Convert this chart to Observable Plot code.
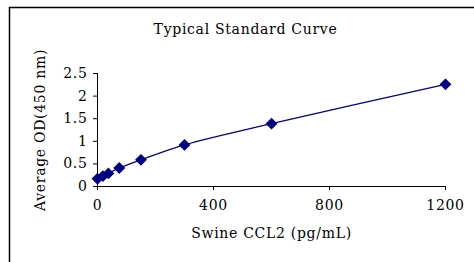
<!DOCTYPE html>
<html><head><meta charset="utf-8">
<script src="https://cdn.jsdelivr.net/npm/d3@7"></script>
<script src="https://cdn.jsdelivr.net/npm/@observablehq/plot@0.6"></script>
<style>body{margin:0;background:#fff} svg text{letter-spacing:0.7px}</style>
</head><body><div id="chart"></div>
<script>
const conc = [0, 18.75, 37.5, 75, 150, 300, 600, 1200];
const od = [0.17, 0.23, 0.29, 0.41, 0.59, 0.92, 1.39, 2.26];
const xTicks = [0, 400, 800, 1200];
const yTicks = [0, 0.5, 1, 1.5, 2, 2.5];
const title = "Typical Standard Curve";
const xLabel = "Swine CCL2 (pg/mL)";
const yLabel = "Average OD(450 nm)";

const data = conc.map((c, i) => ({x: c, y: od[i]}));
const col = "#000080";
const font = "'DejaVu Serif', 'Liberation Serif', serif";

const svg = Plot.plot({
  width: 474, height: 262,
  marginLeft: 97, marginRight: 29, marginTop: 73, marginBottom: 76,
  style: {fontFamily: font, fontSize: "14px", color: "#000", background: "#fff"},
  x: {domain: [0, 1200], ticks: xTicks, label: null},
  y: {domain: [0, 2.5], ticks: yTicks, label: null},
  marks: [
    Plot.axisX({ticks: xTicks, tickSize: 4, tickPadding: 10, fontSize: 14, tickFormat: d => String(d)}),
    Plot.axisY({ticks: yTicks, tickSize: 4, tickPadding: 6, fontSize: 14, tickFormat: d => String(d)}),
    Plot.ruleX([0], {stroke: "#000"}),
    Plot.ruleY([0], {stroke: "#000"}),
    Plot.line(data, {x: "x", y: "y", stroke: col, strokeWidth: 1.2, curve: "catmull-rom"}),
    Plot.dot(data, {x: "x", y: "y", symbol: "diamond2", r: 4.4, fill: col, stroke: col}),
    Plot.text([xLabel], {frameAnchor: "bottom", dy: 51, fontSize: 14, text: d => d}),
    Plot.text([yLabel], {frameAnchor: "left", textAnchor: "middle", dx: -57, rotate: -90, fontSize: 14, text: d => d}),
    Plot.text([title], {frameAnchor: "top", dx: -26, dy: -49, fontSize: 14, text: d => d})
  ]
});
const s = d3.select(svg);
s.insert("rect", ":first-child")
  .attr("x", 9.5).attr("y", 7.5).attr("width", 480).attr("height", 270)
  .attr("fill", "none").attr("stroke", "#000").attr("stroke-width", 1.5);
document.getElementById("chart").appendChild(svg);
</script>
</body></html>
